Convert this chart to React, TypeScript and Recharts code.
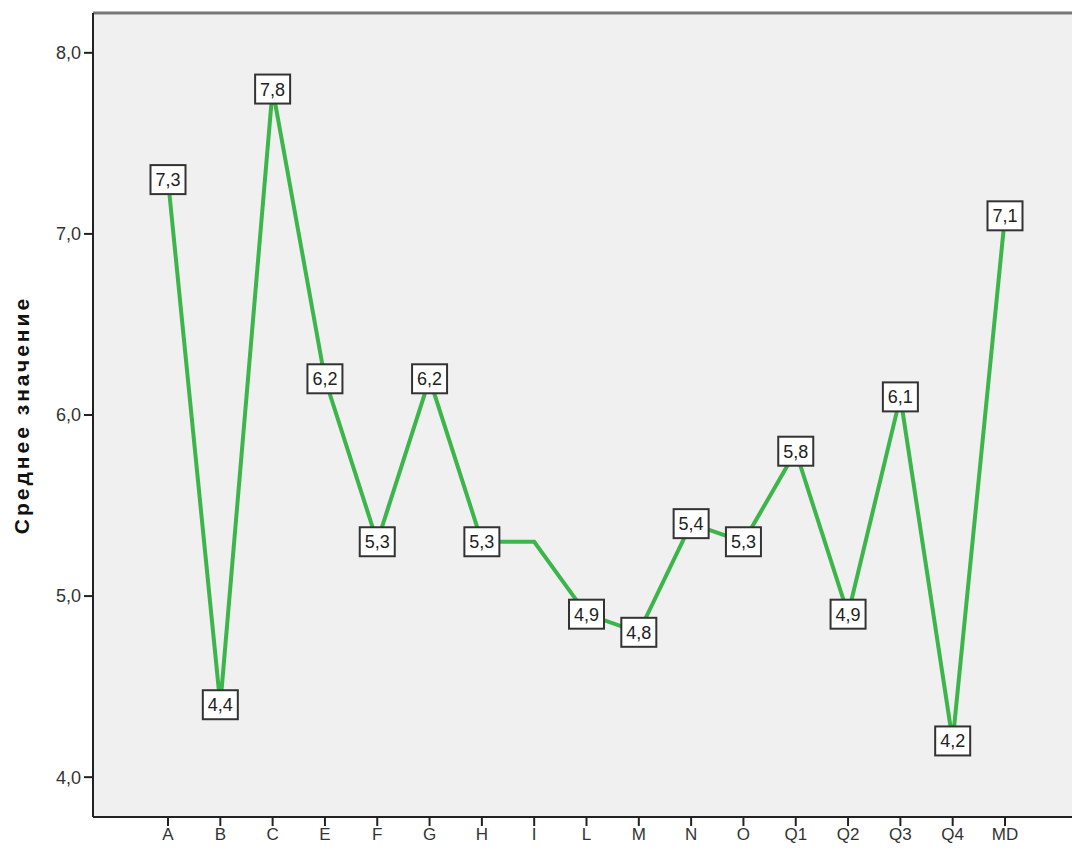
import React from 'react'
import {
  LineChart,
  Line,
  XAxis,
  YAxis,
  CartesianGrid,
  ReferenceLine,
  LabelList,
} from 'recharts'

/* ------------------------------------------------------------------ */
/*  Data                                                               */
/* ------------------------------------------------------------------ */

const categories = ['A', 'B', 'C', 'E', 'F', 'G', 'H', 'I', 'L', 'M', 'N', 'O', 'Q1', 'Q2', 'Q3', 'Q4', 'MD']
const means = [7.3, 4.4, 7.8, 6.2, 5.3, 6.2, 5.3, 5.3, 4.9, 4.8, 5.4, 5.3, 5.8, 4.9, 6.1, 4.2, 7.1]
// SPSS hid the label on the flat segment after H
const hiddenLabels = ['I']
const yTicks = [4, 5, 6, 7, 8]
const yDomain: [number, number] = [3.78, 8.22]

const data = categories.map((name, i) => ({ name, mean: means[i] }))

/* ------------------------------------------------------------------ */
/*  Helpers                                                            */
/* ------------------------------------------------------------------ */

const FONT = 'Arial, "Liberation Sans", sans-serif'
const fmt = (v: number): string => v.toFixed(1).replace('.', ',')

function BoxLabel(props: any) {
  const { x, y, value, index } = props
  if (hiddenLabels.includes(categories[index])) return null
  const w = 35
  const h = 29
  return (
    <g>
      <rect x={x - w / 2} y={y - h / 2} width={w} height={h} fill="#fff" stroke="#333" strokeWidth={2} />
      <text x={x} y={y + 6.5} textAnchor="middle" fontSize={18} fontFamily={FONT} fill="#222">
        {fmt(value)}
      </text>
    </g>
  )
}

/* ------------------------------------------------------------------ */
/*  Component                                                          */
/* ------------------------------------------------------------------ */

export default function App() {
  return (
    <div style={{ position: 'absolute', left: 0, top: 0, width: 1072, height: 850, background: '#fff' }}>
      <LineChart width={1072} height={850} data={data} margin={{ top: 13, right: 0, left: 0, bottom: 0 }}>
        <CartesianGrid fill="#f0f0f0" horizontal={false} vertical={false} />
        <XAxis
          dataKey="name"
          type="category"
          height={33}
          padding={{ left: 75, right: 67 }}
          tick={{ fill: '#333', fontSize: 17, fontFamily: FONT }}
          tickSize={9}
          tickMargin={2}
          tickLine={{ stroke: '#222', strokeWidth: 2 }}
          axisLine={{ stroke: '#222', strokeWidth: 2 }}
          interval={0}
        />
        <YAxis
          width={93}
          domain={yDomain}
          ticks={yTicks}
          tickFormatter={fmt}
          allowDataOverflow
          tick={{ fill: '#333', fontSize: 18, fontFamily: FONT }}
          tickSize={9}
          tickMargin={3}
          tickLine={{ stroke: '#222', strokeWidth: 2 }}
          axisLine={{ stroke: '#222', strokeWidth: 2 }}
          label={{
            value: 'Среднее значение',
            angle: -90,
            position: 'insideLeft',
            offset: 22,
            style: {
              textAnchor: 'middle',
              fontSize: 21,
              letterSpacing: 3,
              fontWeight: 'bold',
              fontFamily: FONT,
              fill: '#111',
            },
          }}
        />
        <ReferenceLine y={yDomain[1]} stroke="#777" strokeWidth={3} />
        <Line
          type="linear"
          dataKey="mean"
          stroke="#3cb64a"
          strokeWidth={4}
          dot={false}
          activeDot={false}
          isAnimationActive={false}
        >
          <LabelList dataKey="mean" content={<BoxLabel />} />
        </Line>
      </LineChart>
    </div>
  )
}
